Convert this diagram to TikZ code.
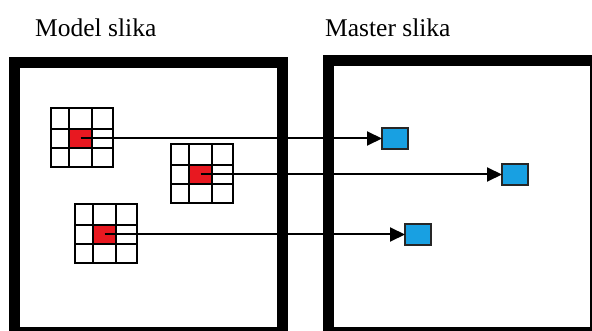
\documentclass[tikz,border=0pt]{standalone}
\usepackage{fontspec}
\setmainfont{Liberation Serif}
\usetikzlibrary{arrows.meta}
\definecolor{redcell}{RGB}{232,24,32}
\definecolor{bluecell}{RGB}{24,160,226}
\tikzset{
 frame/.style={line width=11pt, draw=black},
 gridline/.style={line width=2pt, line cap=rect},
 redc/.style={fill=redcell, draw=none, minimum width=23pt, minimum height=19pt, inner sep=0pt, outer sep=0pt},
 bluec/.style={fill=bluecell, draw=black!85, line width=1.6pt, minimum width=26pt, minimum height=21pt, inner sep=0pt, outer sep=0pt},
 link/.style={line width=2pt, -{Triangle[length=15pt,width=14pt]}},
 title/.style={font=\rmfamily\fontsize{25.5}{30}\selectfont, anchor=base west, inner sep=0pt},
 pics/cellgrid/.style={code={
   \draw[gridline] (0,0) rectangle (62,59);
   \draw[gridline] (18,0) -- (18,59) (41,0) -- (41,59) (0,21) -- (62,21) (0,40) -- (62,40);
 }}
}
\begin{document}
\begin{tikzpicture}[x=1pt,y=-1pt]
\useasboundingbox (0,0) rectangle (592,331);
\clip (0,0) rectangle (592,331);
\fill[white] (0,0) rectangle (592,331);
% titles
\node[title] (t1) at (35,37) {Model slika};
\node[title] (t2) at (325,37) {Master slika};
% frames
\draw[frame] (14,62.5) rectangle (282.5,332.5);
\draw[frame] (328,60.5) rectangle (595.5,332.5);
% red cells
\node[redc] (r1) at (80.5,138.5) {};
\node[redc] (r2) at (200.5,174.5) {};
\node[redc] (r3) at (104.5,234.5) {};
% grids
\pic at (51,108) {cellgrid};
\pic at (171,144) {cellgrid};
\pic at (75,204) {cellgrid};
% blue cells
\node[bluec] (b1) at (395,138.5) {};
\node[bluec] (b2) at (515,174.5) {};
\node[bluec] (b3) at (418,234.5) {};
% links
\draw[link] (r1.center) -- (b1.west);
\draw[link] (r2.center) -- (b2.west);
\draw[link] (r3.center) -- (b3.west);
\end{tikzpicture}
\end{document}
